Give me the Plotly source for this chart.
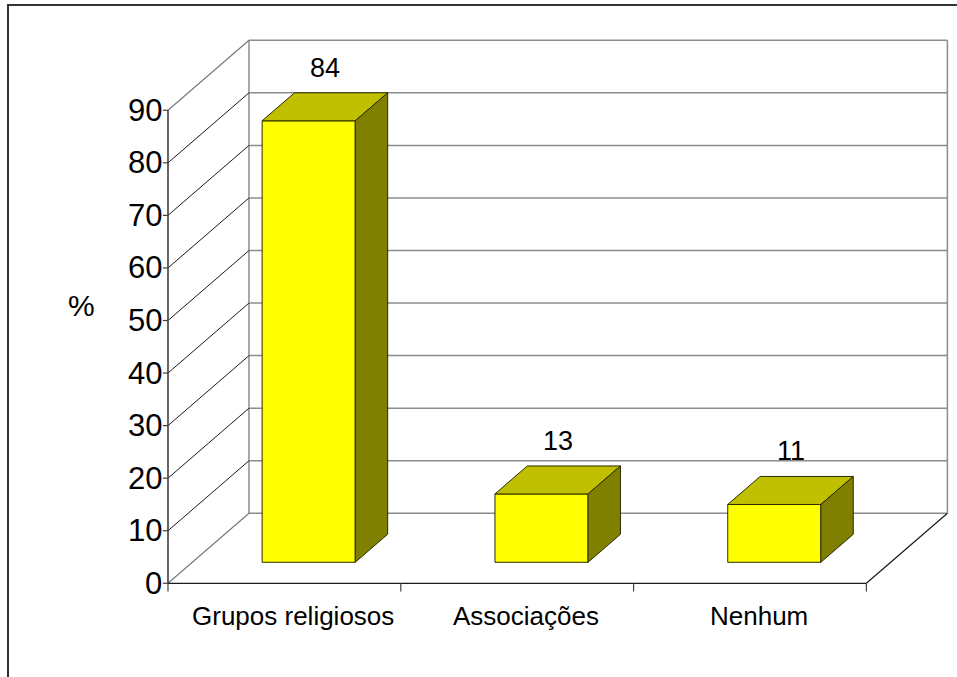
import plotly.graph_objects as go

# ---- data -------------------------------------------------------------
categories = ["Grupos religiosos", "Associações", "Nenhum"]
values = [84, 13, 11]
tick_values = [0, 10, 20, 30, 40, 50, 60, 70, 80, 90]
y_title = "%"

# ---- oblique 3-D projection (depth 0 = front plane, depth 1 = back wall)
DEPTH_DX = 0.348      # shift in category units per unit of depth
DEPTH_DY = 13.32      # shift in value units per unit of depth
BAR_HALF = 0.2        # half bar width, category units
BAR_D0, BAR_D1 = 0.3, 0.7
X_MIN, X_MAX = -0.5, len(categories) - 0.5
Y_MIN, Y_MAX = 0, max(tick_values)
X_RANGE = [-1.2216, 2.8892]
Y_RANGE = [-17.83, 110.98]
YTICK_LEN = 0.022     # category units
XTICK_LEN = 1.55      # value units

FONT = "Arial, Liberation Sans, sans-serif"
GRID_GRAY = "#8c8c8c"
FRONT = "#ffff00"
TOP = "#c0c000"
SIDE = "#808000"
EDGE = "#2b2b00"


def proj(c, v, d):
    return c + d * DEPTH_DX, v + d * DEPTH_DY


def segments(pairs):
    xs, ys = [], []
    for a, b in pairs:
        x0, y0 = proj(*a)
        x1, y1 = proj(*b)
        xs += [x0, x1, None]
        ys += [y0, y1, None]
    return xs, ys


def polygons(polys):
    xs, ys = [], []
    for poly in polys:
        pts = [proj(*p) for p in poly]
        pts.append(pts[0])
        xs += [p[0] for p in pts] + [None]
        ys += [p[1] for p in pts] + [None]
    return xs, ys


fig = go.Figure()


def add_lines(pairs, color, width):
    xs, ys = segments(pairs)
    fig.add_trace(go.Scatter(x=xs, y=ys, mode="lines",
                             line=dict(color=color, width=width),
                             hoverinfo="skip", showlegend=False))


def add_faces(polys, fill):
    xs, ys = polygons(polys)
    fig.add_trace(go.Scatter(x=xs, y=ys, mode="lines", fill="toself",
                             fillcolor=fill, line=dict(color=EDGE, width=1),
                             hoverinfo="skip", showlegend=False))


inner = [t for t in tick_values if Y_MIN < t < Y_MAX]

# back wall gridlines and outline
add_lines([((X_MIN, t, 1), (X_MAX, t, 1)) for t in inner], GRID_GRAY, 1.5)
add_lines([((X_MIN, Y_MAX, 1), (X_MAX, Y_MAX, 1)),
           ((X_MIN, Y_MIN, 1), (X_MAX, Y_MIN, 1)),
           ((X_MIN, Y_MIN, 1), (X_MIN, Y_MAX, 1)),
           ((X_MAX, Y_MIN, 1), (X_MAX, Y_MAX, 1))], GRID_GRAY, 1.5)

# side wall gridlines
add_lines([((X_MIN, t, 0), (X_MIN, t, 1)) for t in inner], "#1a1a1a", 1)
add_lines([((X_MIN, Y_MAX, 0), (X_MIN, Y_MAX, 1)),
           ((X_MIN, Y_MIN, 0), (X_MIN, Y_MIN, 1))], "#7a7a7a", 1.2)

# floor front edge, right floor edge, front value axis and ticks
add_lines([((X_MIN, Y_MIN, 0), (X_MAX, Y_MIN, 0)),
           ((X_MAX, Y_MIN, 0), (X_MAX, Y_MIN, 1))], "#1a1a1a", 1.2)
add_lines([((X_MIN, Y_MIN, 0), (X_MIN, Y_MAX, 0))], "#404040", 1.6)
add_lines([((X_MIN - YTICK_LEN, t, 0), (X_MIN, t, 0)) for t in tick_values],
          "#404040", 1.2)
add_lines([((X_MIN + k, Y_MIN, 0), (X_MIN + k, Y_MIN - XTICK_LEN, 0))
           for k in range(len(categories) + 1)], "#404040", 1.2)

# bars: front, top and right side faces
fronts, tops, sides = [], [], []
for i, v in enumerate(values):
    l, r = i - BAR_HALF, i + BAR_HALF
    fronts.append([(l, 0, BAR_D0), (r, 0, BAR_D0), (r, v, BAR_D0), (l, v, BAR_D0)])
    tops.append([(l, v, BAR_D0), (r, v, BAR_D0), (r, v, BAR_D1), (l, v, BAR_D1)])
    sides.append([(r, 0, BAR_D0), (r, 0, BAR_D1), (r, v, BAR_D1), (r, v, BAR_D0)])
add_faces(fronts, FRONT)
add_faces(tops, TOP)
add_faces(sides, SIDE)

annotations = []
# value-axis tick labels
for t in tick_values:
    x, y = proj(X_MIN, t, 0)
    annotations.append(dict(x=x, y=y, text=str(t), showarrow=False,
                            xanchor="right", yanchor="middle", xshift=-4,
                            font=dict(family=FONT, size=31, color="black")))
# category labels
for i, name in enumerate(categories):
    x, y = proj(i, Y_MIN, 0)
    annotations.append(dict(x=x, y=y, text=name, showarrow=False,
                            xanchor="center", yanchor="top",
                            xshift=9, yshift=-16,
                            font=dict(family=FONT, size=26, color="black")))
# data labels above each bar
for i, v in enumerate(values):
    x, y = proj(i, v, 0.5)
    annotations.append(dict(x=x, y=y, text=str(v), showarrow=False,
                            xanchor="center", yanchor="middle", yshift=39,
                            font=dict(family=FONT, size=27, color="black")))
# axis title
annotations.append(dict(x=0.0855, y=0.549, xref="paper", yref="paper",
                        xanchor="center", yanchor="middle",
                        text=y_title, showarrow=False,
                        font=dict(family=FONT, size=30, color="black")))

fig.update_layout(
    width=957, height=677,
    margin=dict(l=0, r=0, t=0, b=0, pad=0),
    paper_bgcolor="white", plot_bgcolor="white",
    xaxis=dict(range=X_RANGE, visible=False, fixedrange=True),
    yaxis=dict(range=Y_RANGE, visible=False, fixedrange=True),
    annotations=annotations,
    shapes=[dict(type="rect", xref="paper", yref="paper",
                 x0=8 / 957, x1=1.05, y0=-0.05, y1=1 - 5 / 677,
                 line=dict(color="#333333", width=2), layer="below")],
    showlegend=False,
)

fig.write_html("out.html")
